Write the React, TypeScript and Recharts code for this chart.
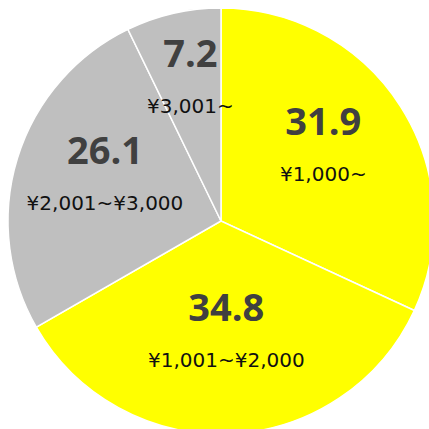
import { PieChart, Pie, Cell } from "recharts";

const categories = ["¥1,000~", "¥1,001~¥2,000", "¥2,001~¥3,000", "¥3,001~"];
const shares = [31.9, 34.8, 26.1, 7.2];
const sliceColors = ["#FFFF00", "#FFFF00", "#BFBFBF", "#BFBFBF"];

const data = categories.map((name, i) => ({ name, value: shares[i] }));

const RAD = Math.PI / 180;

const renderLabel = (props: any) => {
    const { cx, cy, midAngle, outerRadius, percent, index } = props;
    // small slices get their label pushed a bit further out
    const r = outerRadius * (percent < 0.1 ? 0.64 : 0.57);
    const x = cx + r * Math.cos(-midAngle * RAD);
    const y = cy + r * Math.sin(-midAngle * RAD);
    return (
        <g key={`lbl-${index}`}>
            <text
                x={x}
                y={y - 21}
                textAnchor="middle"
                fill="#404040"
                fontSize={38}
                fontWeight="bold"
                fontFamily="'Open Sans', sans-serif"
            >
                {shares[index].toFixed(1)}
            </text>
            <text
                x={x}
                y={y + 25}
                textAnchor="middle"
                fill="#111"
                fontSize={20}
                fontFamily="'DejaVu Sans', sans-serif"
            >
                {categories[index]}
            </text>
        </g>
    );
};

export default function App() {
    return (
        <div style={{ position: "absolute", left: 0, top: 0, width: 429, height: 429, background: "#fff" }}>
            <PieChart width={429} height={429} margin={{ top: 0, right: 0, bottom: 0, left: 0 }}>
                <Pie
                    data={data}
                    dataKey="value"
                    nameKey="name"
                    cx={221}
                    cy={221}
                    outerRadius={213}
                    startAngle={90}
                    endAngle={-270}
                    stroke="#fff"
                    strokeWidth={1.5}
                    labelLine={false}
                    label={renderLabel}
                    isAnimationActive={false}
                >
                    {data.map((d, i) => (
                        <Cell key={d.name} fill={sliceColors[i]} />
                    ))}
                </Pie>
            </PieChart>
        </div>
    );
}
